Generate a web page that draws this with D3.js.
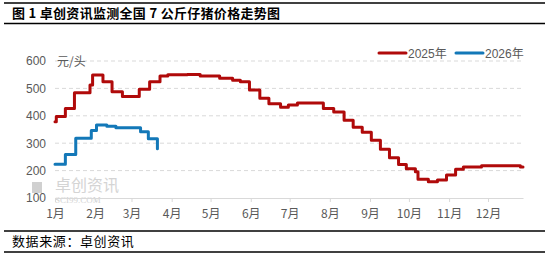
<!DOCTYPE html>
<html>
<head>
  <meta charset="utf-8">
  <script src="https://cdnjs.cloudflare.com/ajax/libs/d3/7.8.5/d3.min.js"></script>
  <style>
    body { margin: 0; background: #fff; }
    svg text { font-family: "Liberation Sans", "Noto Sans CJK SC", sans-serif; }
  </style>
</head>
<body>
<svg width="550" height="261"></svg>
<script>
// price change points, 元/头
var dates2025 = ["01-01","01-02","01-09","01-16","01-28","01-30","02-07","02-14","02-22",
  "03-07","03-15","03-23","03-29","04-13","04-23","05-08","05-18","05-24","05-31",
  "06-08","06-15","06-24","06-30","07-07","07-27","08-04","08-12","08-19","08-26",
  "09-02","09-09","09-16","09-23","09-29","10-06","10-08","10-16","10-23","10-30",
  "11-06","11-12","11-26","12-26","12-28"];
var values2025 = [378,397,427,484,512,549,524,488,470,
  497,524,545,550,551,545,537,530,524,494,
  464,444,431,439,447,427,414,384,358,340,
  311,278,247,222,207,196,168,159,166,184,
  205,213,218,213,213];
var dates2026 = ["01-01","01-09","01-17","01-29","02-02","02-10","02-17","03-08","03-14","03-21"];
var values2026 = [223,259,318,346,366,362,356,342,316,280];

var yTicks = [100, 200, 300, 400, 500, 600];
var seriesNames = ["2025年", "2026年"];
var colors = ["#b00a0a", "#1378b8"];

var svg = d3.select("svg");
var parse = d3.timeParse("%Y-%m-%d");
function toDate(s) { return parse("2025-" + s); }

var x = d3.scaleTime()
  .domain([toDate("01-01"), toDate("12-28")])
  .range([55, 523]);
var y = d3.scaleLinear().domain([100, 600]).range([198, 61]);

// title block
svg.append("line").attr("x1", 4).attr("x2", 545).attr("y1", 3).attr("y2", 3)
  .attr("stroke", "#000").attr("stroke-width", 1.5);
svg.append("line").attr("x1", 4).attr("x2", 545).attr("y1", 23.5).attr("y2", 23.5)
  .attr("stroke", "#000").attr("stroke-width", 1.5);
svg.append("text").attr("x", 12).attr("y", 18)
  .style("font-family", "'Noto Sans CJK SC', serif")
  .style("font-weight", "bold").style("font-size", "13px")
  .style("letter-spacing", "0.3px")
  .text("图 1  卓创资讯监测全国 7 公斤仔猪价格走势图");

// gridlines
svg.append("g")
  .selectAll("line")
  .data(yTicks.filter(d => d > 100))
  .enter().append("line")
    .attr("x1", 55).attr("x2", 523)
    .attr("y1", d => y(d)).attr("y2", d => y(d))
    .attr("stroke", "#d9d9d9").attr("stroke-dasharray", "4,3");

// watermark
svg.append("rect").attr("x", 32).attr("y", 182).attr("width", 10).attr("height", 11)
  .attr("fill", "#d0d0d0");
svg.append("text").attr("x", 55).attr("y", 191)
  .style("font-family", "'Noto Sans CJK SC'").style("font-size", "16px")
  .attr("fill", "#d4d4d4").text("卓创资讯");
svg.append("text").attr("x", 55).attr("y", 203)
  .style("font-family", "'Liberation Serif'").style("font-size", "9px")
  .attr("fill", "#d4d4d4").text("SCI99.COM");

// y axis labels
svg.append("g")
  .attr("transform", "translate(55,0)")
  .call(d3.axisLeft(y).tickValues(yTicks).tickSize(0).tickPadding(9))
  .call(g => g.select(".domain").remove())
  .selectAll("text")
    .attr("fill", "#595959")
    .style("font-size", "12px");

svg.append("text").attr("x", 57).attr("y", 66)
  .attr("fill", "#595959").style("font-size", "12px")
  .style("font-family", "'Noto Sans CJK SC'")
  .text("元/头");

// x axis
var xAxis = svg.append("g")
  .attr("transform", "translate(0,198)")
  .call(d3.axisBottom(x)
    .ticks(d3.timeMonth.every(1))
    .tickFormat(d3.timeFormat("%-m月"))
    .tickSizeInner(4).tickSizeOuter(0).tickPadding(7));
xAxis.select(".domain").attr("stroke", "#d9d9d9");
xAxis.selectAll(".tick line").attr("stroke", "#d9d9d9");
xAxis.selectAll("text")
  .attr("fill", "#595959")
  .style("font-size", "12px")
  .style("font-family", "'Noto Sans CJK SC'");

// lines
var line = d3.line()
  .x(d => x(d[0]))
  .y(d => y(d[1]))
  .curve(d3.curveStepAfter);

var series = [
  dates2025.map((d, i) => [toDate(d), values2025[i]]),
  dates2026.map((d, i) => [toDate(d), values2026[i]])
];

svg.selectAll(".series")
  .data(series)
  .enter().append("path")
    .attr("class", "series")
    .attr("d", line)
    .attr("fill", "none")
    .attr("stroke", (d, i) => colors[i])
    .attr("stroke-width", 3)
    .attr("stroke-linejoin", "round")
    .attr("stroke-linecap", "round");

// legend
var legend = svg.selectAll(".legend")
  .data(seriesNames)
  .enter().append("g")
    .attr("class", "legend")
    .attr("transform", (d, i) => "translate(" + (379 + i * 77) + ",53)");
legend.append("line")
  .attr("x1", 0).attr("x2", 27)
  .attr("stroke", (d, i) => colors[i])
  .attr("stroke-width", 3).attr("stroke-linecap", "round");
legend.append("text")
  .attr("x", 29).attr("y", 4.5)
  .attr("fill", "#595959").style("font-size", "12px")
  .style("font-family", "'Liberation Sans', 'Noto Sans CJK SC'")
  .text(d => d);

// source footer
svg.append("line").attr("x1", 4).attr("x2", 545).attr("y1", 231).attr("y2", 231)
  .attr("stroke", "#000").attr("stroke-width", 1.5);
svg.append("line").attr("x1", 4).attr("x2", 545).attr("y1", 252).attr("y2", 252)
  .attr("stroke", "#000").attr("stroke-width", 1.5);
svg.append("text").attr("x", 12).attr("y", 246)
  .style("font-family", "'Noto Sans CJK SC'").style("font-size", "13px")
  .style("letter-spacing", "0.6px")
  .attr("fill", "#000")
  .text("数据来源：卓创资讯");
</script>
</body>
</html>
